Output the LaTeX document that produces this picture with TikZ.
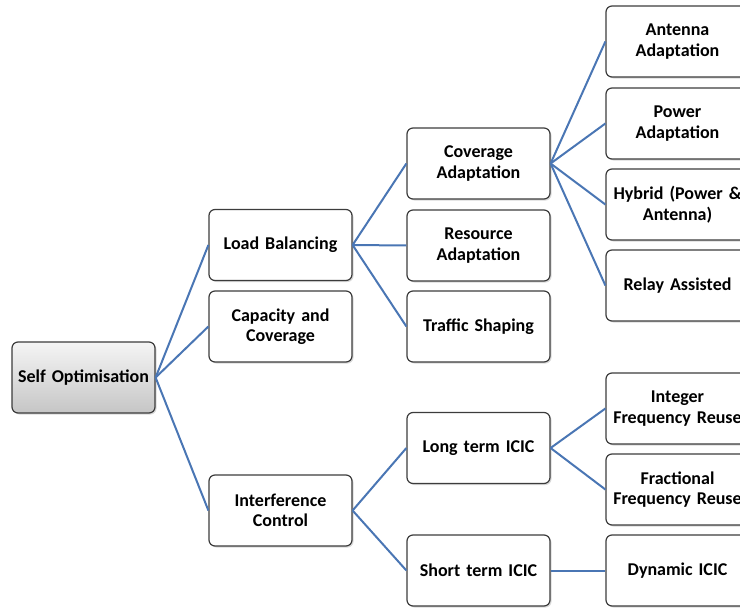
\documentclass[tikz,border=0pt]{standalone}
\usepackage{fontspec}
\setmainfont[WordSpace=0.8]{Carlito}
\usetikzlibrary{shadows}
\definecolor{edgeblue}{RGB}{74,118,180}
\definecolor{boxline}{RGB}{60,60,60}
\tikzset{
  box/.style={draw=boxline, line width=1.2pt, rounded corners=6pt, fill=white,
    minimum width=143pt, minimum height=71pt, inner sep=1pt, align=center,
    font=\fontsize{18}{20.5}\selectfont\bfseries, text width=141pt,
    drop shadow={shadow xshift=1.5pt, shadow yshift=-1.5pt, opacity=0.3, fill=gray}},
  rootbox/.style={box, top color=gray!8, bottom color=gray!45},
  link/.style={draw=edgeblue, line width=2pt}
}
\begin{document}
\begin{tikzpicture}[x=1pt,y=-1pt]
\useasboundingbox (0,0) rectangle (740,608);
\clip (0,0) rectangle (740,608);
\node[rootbox] (so) at (83.5,377.5) {Self Optimisation};
\node[box] (lb) at (280.5,245) {Load Balancing};
\node[box] (cc) at (280.5,326.5) {Capacity and\\Coverage};
\node[box] (ic) at (280.5,510.5) {Interference\\Control};
\node[box] (ca) at (478.5,163.5) {Coverage\\Adaptation};
\node[box] (ra) at (478.5,245.5) {Resource\\Adaptation};
\node[box] (ts) at (478.5,326.5) {Traffic Shaping};
\node[box] (lt) at (478.5,448) {Long term ICIC};
\node[box] (st) at (478.5,570.5) {Short term ICIC};
\node[box] (aa) at (677.5,41.5) {Antenna\\Adaptation};
\node[box] (pa) at (677.5,123.5) {Power\\Adaptation};
\node[box] (hy) at (677.5,204.5) {Hybrid (Power \&\\Antenna)};
\node[box] (rl) at (677.5,285.5) {Relay Assisted};
\node[box] (ifr) at (677.5,408.5) {Integer\\Frequency Reuse};
\node[box] (ffr) at (677.5,489.5) {Fractional\\Frequency Reuse};
\node[box] (dy) at (677.5,570.5) {Dynamic ICIC};
\foreach \a/\b in {so/lb,so/cc,so/ic,lb/ca,lb/ra,lb/ts,ic/lt,ic/st,ca/aa,ca/pa,ca/hy,ca/rl,lt/ifr,lt/ffr,st/dy}{
  \draw[link] (\a.east) -- (\b.west);
}
\end{tikzpicture}
\end{document}
